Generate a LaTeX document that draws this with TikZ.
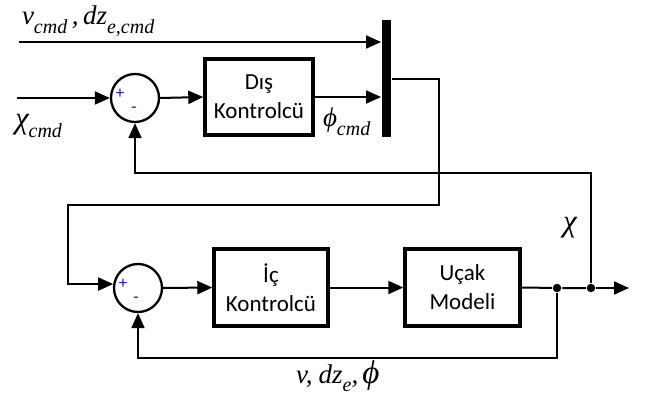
\documentclass[tikz,border=0pt]{standalone}
\usepackage{fontspec}
\setmainfont{Carlito}
\newfontfamily\lserif{Liberation Serif}
\usetikzlibrary{arrows.meta}
\definecolor{sumblue}{RGB}{20,20,160}
\newcommand\itv[1]{{\lserif\itshape #1}}
\newcommand\subs[1]{\raisebox{-0.33em}{\fontsize{20}{20}\selectfont\lserif\itshape #1}}
\begin{document}
\begin{tikzpicture}[x=1pt,y=-1pt,line width=2pt,
  arr/.style={-{Triangle[length=15pt,width=13pt]}},
  blk/.style={draw,line width=3.4pt,inner sep=0pt,align=center,font=\fontsize{23}{29}\selectfont},
  sumnode/.style={draw,circle,line width=2.3pt,minimum size=48pt,inner sep=0pt},
  dotnode/.style={circle,fill,minimum size=8.5pt,inner sep=0pt},
  sgn/.style={text=sumblue,font=\fontsize{17}{17}\selectfont,inner sep=0pt},
  lbl/.style={inner sep=0pt,font=\fontsize{27}{27}\selectfont}]
\useasboundingbox (0,0) rectangle (647,403);
% nodes
\node[sumnode] (s1) at (135,98) {};
\node[blk,minimum width=108pt,minimum height=76pt] (dis) at (259,97) {Dış\\Kontrolcü};
\node[fill,minimum width=9pt,minimum height=117pt,inner sep=0pt] (mux) at (386.5,78.5) {};
\node[sumnode] (s2) at (138,288) {};
\node[blk,minimum width=114pt,minimum height=77pt] (ic) at (271,287.5) {İç\\Kontrolcü};
\node[blk,minimum width=115pt,minimum height=77pt] (ucak) at (462.5,287.5) {Uçak\\Modeli};
\node[dotnode] (d1) at (557,288) {};
\node[dotnode] (d2) at (591,288) {};
% signs
\node[sgn] (p1) at (120,94) {+};
\node[sgn] (m1s) at (134,110) {-};
\node[sgn] (p2) at (123,284) {+};
\node[sgn] (m2s) at (136,300) {-};
% coordinates
\coordinate (in1) at (19,42);
\coordinate (in2) at (17,98);
\coordinate (mo) at (439,79);
\coordinate (ml) at (68,205);
\coordinate (out) at (629,288);
% connectors
\draw[arr] (in1) -- (mux.west |- in1);
\draw[arr] (in2) -- (s1.west);
\draw[arr] (s1.east) -- (dis.west);
\draw[arr] (dis.east) -- (mux.west |- dis.east);
\draw[arr] (mux.east |- mo) -- (mo) |- (ml) |- (s2.171);
\draw[arr] (s2.east) -- (ic.west);
\draw[arr] (ic.east) -- (ucak.west);
\draw (ucak.east) -- (d1) -- (d2);
\draw[arr] (d2) -- (out);
\draw[arr] (d2) |- (s1.south |- 0,173) -- (s1.south);
\draw[arr] (d1) |- (s2.south |- 0,358) -- (s2.south);
% labels
\node[lbl,anchor=base west] (lv) at (21,25) {\itv{v}\subs{cmd}\,\itv{,}\,\itv{dz}\subs{e,cmd}};
\node[lbl,anchor=base west] (lchi) at (14,129) {{\fontsize{31}{31}\selectfont\itv{χ}}\subs{cmd}};
\node[lbl,anchor=base west] (lphi) at (322,127) {\itv{ϕ}\subs{cmd}};
\node[lbl] (lchi2) at (570,228) {\fontsize{31}{31}\selectfont\itv{χ}};
\node[lbl,anchor=base west] (lb) at (295,383) {\itv{v}\itv{,}\hspace{6pt}\itv{dz}\subs{e}\itv{,}\hspace{4pt}{\fontsize{33}{33}\selectfont\itv{ϕ}}};
\end{tikzpicture}
\end{document}
